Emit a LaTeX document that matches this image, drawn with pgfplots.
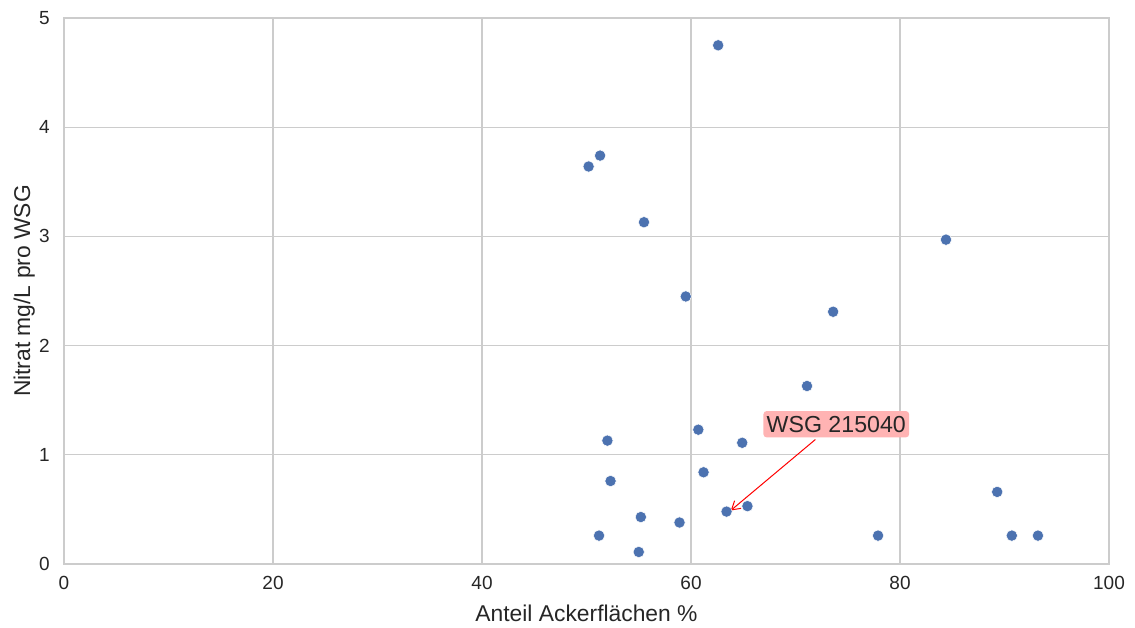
\documentclass[border=0pt]{standalone}
\usepackage{pgfplots}
\pgfplotsset{compat=1.18}
\usepackage{fontspec}
\setmainfont{Liberation Sans}
\usetikzlibrary{arrows.meta}
\definecolor{sbblue}{HTML}{4C72B0}
\definecolor{gridc}{HTML}{CCCCCC}
\definecolor{txt}{HTML}{262626}
\definecolor{boxc}{HTML}{FFB3B3}
\begin{document}
\begin{tikzpicture}
\begin{axis}[
  scale only axis,
  width=627pt, height=327.6pt,
  xmin=0, xmax=100, ymin=0, ymax=5,
  xtick={0,20,40,60,80,100},
  ytick={0,1,2,3,4,5},
  grid=major,
  major grid style={gridc, line width=0.8pt},
  axis line style={gridc, line width=0.8pt},
  tick style={draw=none},
  ticklabel style={font=\fontsize{11.4}{13}\selectfont, text=txt},
  /pgf/number format/assume math mode=true,
  xlabel={Anteil Ackerflächen \%},
  ylabel={Nitrat mg/L pro WSG},
  label style={font=\fontsize{13.7}{15}\selectfont, text=txt},
  xlabel style={yshift=-2pt},
  ylabel style={yshift=-4.3pt},
  xticklabel style={yshift=-4pt},
  yticklabel style={xshift=-5pt},
  clip=false,
]
\addplot[only marks, mark=*, mark size=3.4pt, mark options={fill=sbblue, draw=white, line width=0.3pt}]
coordinates {
(62.6,4.75) (50.2,3.64) (51.3,3.74) (55.5,3.13) (84.4,2.97)
(59.5,2.45) (73.6,2.31) (71.1,1.63) (60.7,1.23) (52.0,1.13)
(64.9,1.11) (61.2,0.84) (52.3,0.76) (89.3,0.66) (65.4,0.53)
(63.4,0.48) (55.2,0.43) (58.9,0.38) (51.2,0.26) (77.9,0.26)
(90.7,0.26) (93.2,0.26) (55.0,0.11)
};
\draw[red, line width=0.6pt, -{Straight Barb[length=5pt,width=6pt]}] (axis cs:71.9,1.14) -- (axis cs:63.8,0.49);
\node[fill=boxc, rounded corners=2pt, inner xsep=2pt, inner ysep=3pt, text=txt, font=\fontsize{13.9}{15}\selectfont] at (axis cs:73.9,1.28) {WSG 215040};
\coordinate (ll) at (rel axis cs:0,0);
\coordinate (ur) at (rel axis cs:1,1);
\end{axis}
\path ([xshift=-38.4pt,yshift=-34.2pt]ll) rectangle ([xshift=15.6pt,yshift=10.8pt]ur);
\end{tikzpicture}
\end{document}
